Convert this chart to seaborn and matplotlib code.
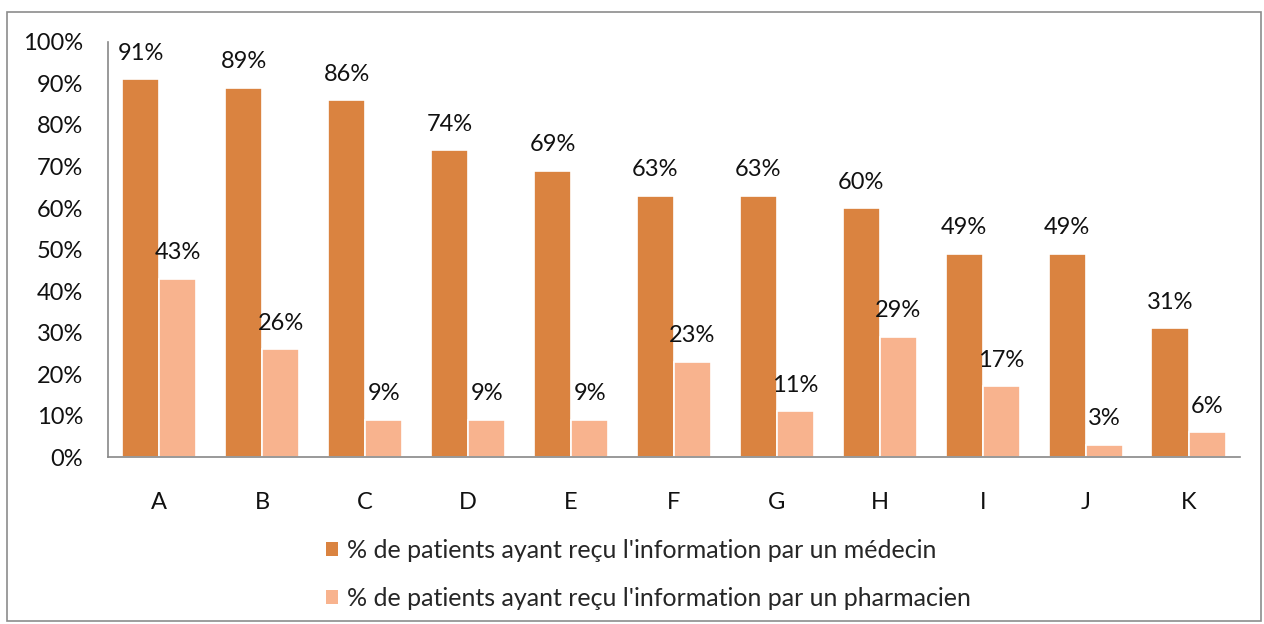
import numpy as np
import pandas as pd
import matplotlib
matplotlib.use("Agg")
import matplotlib.pyplot as plt
import seaborn as sns
from matplotlib.patches import Patch, Rectangle
from matplotlib.ticker import PercentFormatter

categories = ["A", "B", "C", "D", "E", "F", "G", "H", "I", "J", "K"]
medecin = [91, 89, 86, 74, 69, 63, 63, 60, 49, 49, 31]
pharmacien = [43, 26, 9, 9, 9, 23, 11, 29, 17, 3, 6]
series_names = ["% de patients ayant reçu l'information par un médecin",
                "% de patients ayant reçu l'information par un pharmacien"]
colors = ["#DA8340", "#F8B38E"]

df = pd.DataFrame({
    "cat": categories * 2,
    "val": medecin + pharmacien,
    "serie": [series_names[0]] * len(categories) + [series_names[1]] * len(categories),
})

sns.set_style("white")
plt.rcParams["font.family"] = ["Lato", "DejaVu Sans"]
fs = 17

fig = plt.figure(figsize=(12.64, 6.24), dpi=100)
ax = fig.add_axes([0.0854, 0.2676, 0.8956, 0.6651])

sns.barplot(data=df, x="cat", y="val", hue="serie", palette=colors, saturation=1,
            width=0.72, edgecolor="white", linewidth=1.2, ax=ax, legend=False)

for cont in ax.containers:
    labels = [f"{int(round(v))}%" for v in cont.datavalues]
    ax.bar_label(cont, labels=labels, padding=11, fontsize=fs, color="#111111")

ax.set_ylim(0, 100)
ax.set_xlim(-0.5, len(categories) - 0.5)
ax.yaxis.set_major_locator(plt.MultipleLocator(10))
ax.yaxis.set_major_formatter(PercentFormatter(decimals=0))
ax.set_xlabel("")
ax.set_ylabel("")
ax.tick_params(axis="both", labelsize=fs, colors="#111111", length=0)
ax.tick_params(axis="x", pad=25)
ax.tick_params(axis="y", pad=18)
sns.despine(ax=ax, top=True, right=True)
for s in ["left", "bottom"]:
    ax.spines[s].set_color("#888888")
    ax.spines[s].set_linewidth(1.2)

handles = [Patch(facecolor=c, edgecolor="none") for c in colors]
fig.legend(handles, series_names, loc="upper center", bbox_to_anchor=(0.513, 0.172),
           frameon=False, fontsize=18, ncol=1, handlelength=0.5, handleheight=0.5,
           handletextpad=0.35, labelspacing=1.0)

fig.patches.append(Rectangle((0.0055, 0.005), 0.9925, 0.976, transform=fig.transFigure,
                             fill=False, edgecolor="#8c8c8c", linewidth=1.2))

fig.savefig("out.png", dpi=100)
